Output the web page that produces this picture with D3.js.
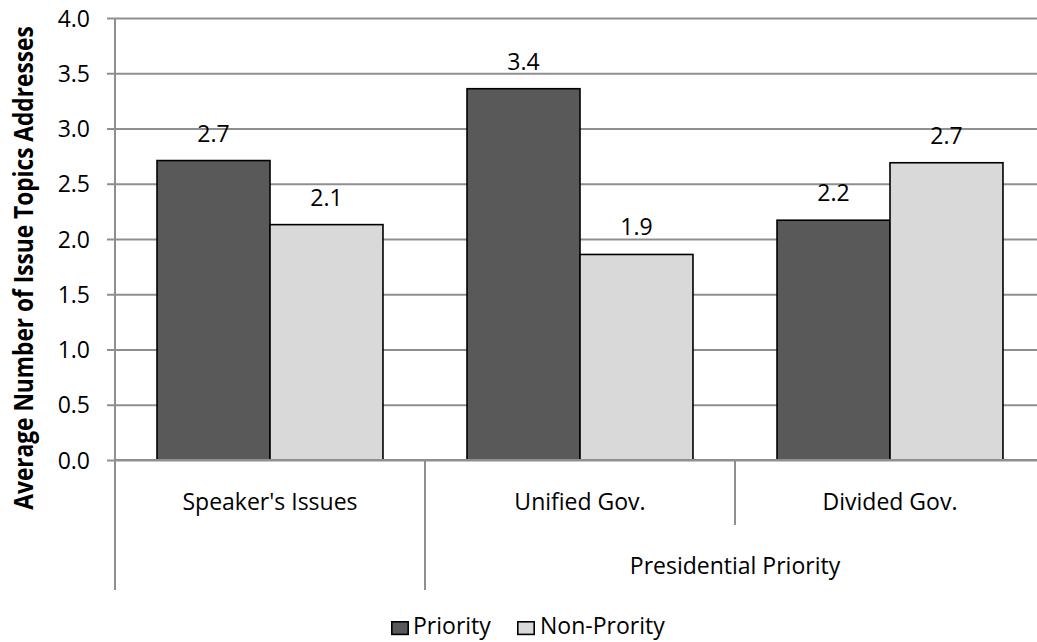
<!DOCTYPE html>
<html>
<head>
<meta charset="utf-8">
<script src="https://cdnjs.cloudflare.com/ajax/libs/d3/7.8.5/d3.min.js"></script>
<style>
  html, body { margin: 0; padding: 0; background: #fff; }
  svg { display: block; font-family: "Open Sans", sans-serif; }
</style>
</head>
<body>
<svg id="chart" width="1037" height="642"></svg>
<script>
// Average number of issue topics addressed, by priority type
const categories = ["Speaker's Issues", "Unified Gov.", "Divided Gov."];
const seriesNames = ["Priority", "Non-Prority"];
const priorityValues = [2.71, 3.36, 2.17];
const nonPriorityValues = [2.13, 1.86, 2.69];
const yTicks = [0, 0.5, 1.0, 1.5, 2.0, 2.5, 3.0, 3.5, 4.0];
// Outer grouping of the category axis: [label, first index, last index]
const groupLabels = [["Presidential Priority", 1, 2]];

const colors = { "Priority": "#595959", "Non-Prority": "#d9d9d9" };
const gridColor = "#8f8f8f";
const fontSize = 23;

const svg = d3.select("#chart");
const plotLeft = 115, plotRight = 1045, plotTop = 18, plotBottom = 460;

const x0 = d3.scaleBand().domain(categories).range([plotLeft, plotRight]).paddingInner(0).paddingOuter(0);
const x1 = d3.scaleBand().domain(seriesNames).range([0, x0.bandwidth()]).paddingInner(0).paddingOuter(0.372);
const y = d3.scaleLinear().domain([0, 4]).range([plotBottom, plotTop]);

const rows = categories.map((c, i) => ({ cat: c, vals: [
  { key: "Priority", value: priorityValues[i] },
  { key: "Non-Prority", value: nonPriorityValues[i] }
]}));

// Horizontal gridlines with left tick stubs
const yAxis = d3.axisLeft(y).tickValues(yTicks).tickFormat(d3.format(".1f"))
  .tickSize(-(plotRight - plotLeft)).tickPadding(25);
const gy = svg.append("g").attr("transform", `translate(${plotLeft},0)`).call(yAxis);
gy.select(".domain").remove();
gy.selectAll(".tick line").attr("stroke", gridColor).attr("stroke-width", 2).attr("x1", -8);
gy.selectAll(".tick text").attr("font-size", fontSize).attr("fill", "#000")
  .attr("font-family", "Open Sans, sans-serif").attr("dy", "0.35em");

// Vertical value axis line
svg.append("line").attr("x1", plotLeft).attr("x2", plotLeft).attr("y1", plotTop).attr("y2", plotBottom)
  .attr("stroke", gridColor).attr("stroke-width", 2);

// Bars
const groups = svg.append("g").selectAll("g").data(rows).join("g")
  .attr("transform", d => `translate(${x0(d.cat)},0)`);
groups.selectAll("rect").data(d => d.vals).join("rect")
  .attr("x", d => x1(d.key))
  .attr("y", d => y(d.value))
  .attr("width", x1.bandwidth())
  .attr("height", d => y(0) - y(d.value))
  .attr("fill", d => colors[d.key])
  .attr("stroke", "#000").attr("stroke-width", 1.6);

// Value labels
groups.selectAll("text").data(d => d.vals).join("text")
  .attr("x", d => x1(d.key) + x1.bandwidth() / 2)
  .attr("y", d => y(d.value) - 19)
  .attr("text-anchor", "middle").attr("font-size", fontSize).attr("fill", "#000")
  .text(d => d3.format(".1f")(d.value));

// Category axis baseline
svg.append("line").attr("x1", plotLeft).attr("x2", plotRight).attr("y1", plotBottom).attr("y2", plotBottom)
  .attr("stroke", gridColor).attr("stroke-width", 2);

// Category separators: full height between outer groups, short within a group
const grouped = new Set();
groupLabels.forEach(([, a, b]) => { for (let i = a + 1; i <= b; i++) grouped.add(i); });
categories.forEach((c, i) => {
  const xPos = x0(c);
  svg.append("line").attr("x1", xPos).attr("x2", xPos)
    .attr("y1", plotBottom).attr("y2", grouped.has(i) ? 525 : 590)
    .attr("stroke", gridColor).attr("stroke-width", 2);
});
svg.append("line").attr("x1", plotRight).attr("x2", plotRight).attr("y1", plotBottom).attr("y2", 590)
  .attr("stroke", gridColor).attr("stroke-width", 2);

// Category labels
svg.append("g").selectAll("text").data(categories).join("text")
  .attr("x", d => x0(d) + x0.bandwidth() / 2)
  .attr("y", 510)
  .attr("text-anchor", "middle").attr("font-size", fontSize).attr("fill", "#000")
  .text(d => d);

// Outer group labels
svg.append("g").selectAll("text").data(groupLabels).join("text")
  .attr("x", d => (x0(categories[d[1]]) + x0(categories[d[2]]) + x0.bandwidth()) / 2)
  .attr("y", 574)
  .attr("text-anchor", "middle").attr("font-size", fontSize).attr("fill", "#000")
  .text(d => d[0]);

// Value axis title
svg.append("text")
  .attr("transform", "translate(33,268) rotate(-90) scale(1,1.2)")
  .attr("text-anchor", "middle").attr("font-size", 22.7).attr("font-weight", "bold").attr("fill", "#000")
  .text("Average Number of Issue Topics Addresses");

// Legend
const legendItems = [
  { key: "Priority", box: 391, text: 413 },
  { key: "Non-Prority", box: 517, text: 540 }
];
const lg = svg.append("g");
legendItems.forEach(it => {
  lg.append("rect").attr("x", it.box + 0.8).attr("y", 621.8).attr("width", 16.4).attr("height", 12.6)
    .attr("fill", colors[it.key]).attr("stroke", "#000").attr("stroke-width", 1.6);
  lg.append("text").attr("x", it.text).attr("y", 634).attr("font-size", fontSize).attr("fill", "#000").text(it.key);
});
</script>
</body>
</html>
